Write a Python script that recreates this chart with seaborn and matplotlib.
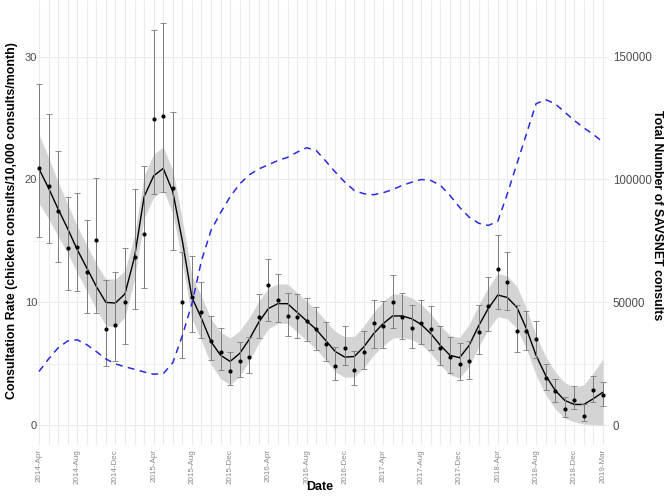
import numpy as np
import pandas as pd
import matplotlib
matplotlib.use("Agg")
import matplotlib.pyplot as plt
import seaborn as sns

# ---------------- data ----------------
months = list(pd.date_range("2014-04-01", periods=60, freq="MS").strftime("%Y-%b"))
tick_labels = ["2014-Apr", "2014-Aug", "2014-Dec", "2015-Apr", "2015-Aug", "2015-Dec",
               "2016-Apr", "2016-Aug", "2016-Dec", "2017-Apr", "2017-Aug", "2017-Dec",
               "2018-Apr", "2018-Aug", "2018-Dec", "2019-Mar"]

rate = [20.9, 19.5, 17.4, 14.4, 14.5, 12.5, 15.1, 7.8, 8.2, 10.0,
        13.7, 15.6, 24.9, 25.2, 19.3, 10.0, 10.4, 9.2, 6.9, 6.0,
        4.4, 5.2, 5.6, 8.8, 11.4, 10.2, 8.9, 8.8, 8.5, 7.8,
        6.6, 4.8, 6.3, 4.5, 6.0, 8.35, 8.1, 10.0, 8.8, 7.9,
        8.3, 7.8, 6.3, 5.6, 5.0, 5.2, 7.6, 9.7, 12.7, 11.65,
        7.67, 7.7, 7.0, 3.85, 2.8, 1.35, 2.1, 0.8, 2.9, 2.5]
rate_lo = [15.3, 14.8, 13.3, 11.0, 10.9, 9.1, 9.1, 4.8, 5.2, 6.6,
           9.5, 11.2, 18.8, 19.0, 14.3, 5.5, 7.6, 7.1, 5.3, 4.5,
           3.25, 3.9, 4.25, 7.1, 8.5, 8.4, 7.3, 7.1, 6.9, 6.15,
           5.2, 3.66, 4.9, 3.3, 4.6, 6.3, 6.3, 7.9, 7.05, 6.3,
           6.6, 6.15, 4.9, 4.25, 3.7, 3.8, 5.8, 7.7, 9.5, 9.4,
           5.96, 6.15, 5.5, 2.85, 1.9, 0.67, 1.3, 0.35, 1.9, 1.6]
rate_hi = [27.8, 25.3, 22.3, 18.6, 18.9, 16.7, 20.1, 11.8, 12.5, 14.4,
           19.2, 21.1, 32.2, 32.7, 25.5, 14.1, 13.8, 11.7, 8.9, 7.9,
           6.0, 6.8, 7.2, 10.65, 13.5, 12.3, 10.8, 10.7, 10.35, 9.6,
           8.4, 6.4, 8.1, 6.04, 7.7, 10.2, 10.1, 12.2, 10.75, 9.76,
           10.2, 9.7, 8.1, 7.2, 6.7, 6.85, 9.76, 12.1, 15.5, 14.1,
           9.76, 9.3, 8.46, 5.0, 3.8, 2.3, 3.2, 1.7, 4.0, 3.5]

smooth = [20.87, 19.3, 17.6, 16.0, 14.3, 12.8, 11.3, 10.0, 9.95, 10.7,
          13.7, 18.6, 20.3, 20.9, 19.0, 15.0, 10.4, 8.7, 6.8, 5.7,
          5.2, 5.85, 7.0, 8.4, 9.5, 9.9, 9.9, 9.2, 8.5, 7.8,
          6.9, 6.0, 5.55, 5.6, 6.4, 7.45, 8.27, 8.9, 8.9, 8.67,
          8.2, 7.45, 6.5, 5.7, 5.5, 6.5, 8.1, 9.5, 10.6, 10.4,
          9.6, 7.85, 5.7, 4.07, 2.85, 2.03, 1.7, 1.7, 2.17, 2.7]
smooth_se = [2.8, 2.5, 2.2, 2.0, 1.9, 1.85, 1.85, 1.9, 1.95, 1.9,
             1.8, 1.75, 1.75, 1.75, 1.75, 1.75, 1.75, 1.8, 1.85, 1.9,
             1.9, 1.85, 1.75, 1.7, 1.65, 1.6, 1.6, 1.6, 1.6, 1.6,
             1.6, 1.65, 1.65, 1.65, 1.7, 1.75, 1.8, 1.8, 1.75, 1.7,
             1.65, 1.6, 1.6, 1.6, 1.65, 1.7, 1.7, 1.7, 1.75, 1.75,
             1.7, 1.65, 1.6, 1.55, 1.5, 1.45, 1.4, 1.6, 2.1, 2.7]

total_consults = [21900, 27000, 31500, 34300, 34800, 32800, 30000, 27000, 25000, 23800,
                  22800, 21700, 20800, 21000, 25500, 36500, 49500, 67000, 79300, 86500,
                  93000, 98200, 101900, 104300, 106000, 107700, 109000, 111100, 112900, 111800,
                  107500, 103000, 98900, 95500, 94200, 93800, 94600, 95900, 97600, 98900,
                  100000, 99600, 97600, 93500, 88700, 84700, 82200, 81300, 83000, 94200,
                  106400, 118600, 130800, 132500, 130800, 127400, 124000, 121000, 118300, 115200]

# ---------------- style ----------------
sns.set_theme(style="white")
plt.rcParams["font.family"] = ["Liberation Sans", "DejaVu Sans"]

df = pd.DataFrame({
    "month": months,
    "pos": np.arange(len(months)),
    "rate": rate, "lo": rate_lo, "hi": rate_hi,
    "smooth": smooth, "se": smooth_se,
    "total": total_consults,
})
df["s_lo"] = df["smooth"] - df["se"]
df["s_hi"] = df["smooth"] + df["se"]

fig = plt.figure(figsize=(6.65, 4.97), dpi=100)
ax = fig.add_axes([0.050, 0.1046, 0.8653, 0.8954])
ax2 = ax.twinx()

scale = 5000.0
ylo, yhi = -1.6, 34.6
ax.set_ylim(ylo, yhi)
ax2.set_ylim(ylo * scale, yhi * scale)
ax.set_xlim(-0.6, len(months) - 0.4)

grid_c = "#ebebeb"
ax.set_xticks(df["pos"])
ax.set_yticks([0, 10, 20, 30])
ax.set_yticks([5, 15, 25], minor=True)
ax.grid(True, which="major", axis="both", color=grid_c, linewidth=0.8, zorder=0)
ax.grid(True, which="minor", axis="y", color=grid_c, linewidth=0.5, zorder=0)

# ribbon + smooth
ax.fill_between(df["pos"], df["s_lo"], df["s_hi"], color="#d4d4d4", linewidth=0, zorder=1)
sns.lineplot(data=df, x="pos", y="smooth", ax=ax, color="black", linewidth=1.0, zorder=3)

# error bars + points
ax.errorbar(df["pos"], df["rate"], yerr=[df["rate"] - df["lo"], df["hi"] - df["rate"]],
            fmt="none", ecolor="#7a7a7a", elinewidth=0.7, capsize=2.0, capthick=0.6, zorder=4)
sns.scatterplot(data=df, x="pos", y="rate", ax=ax, color="black", s=9, linewidth=0, zorder=5)

# total consults (right axis)
sns.lineplot(data=df, x="pos", y="total", ax=ax2, color="#2a2ae0", linewidth=1.1,
             dashes=False, zorder=6)
for l in ax2.get_lines():
    l.set_dashes([4.5, 3.5])

# ticks
lab = [m if (m in tick_labels) else "" for m in months]
ax.set_xticklabels(lab, rotation=90, fontsize=5.8, color="#8a8a8a")
ax.tick_params(axis="x", length=0, pad=3)
ax.tick_params(axis="y", which="both", length=0, pad=-2.7, labelsize=8, labelcolor="#4d4d4d")
ax2.set_yticks([0, 50000, 100000, 150000])
ax2.set_yticklabels(["0", "50000", "100000", "150000"])
ax2.tick_params(axis="y", length=0, pad=3, labelsize=8.3, labelcolor="#4d4d4d")
ax2.grid(False)

for a in (ax, ax2):
    for s in a.spines.values():
        s.set_visible(False)
ax.set_facecolor("white")
ax2.set_zorder(ax.get_zorder() + 1)
ax2.patch.set_visible(False)

ax.set_xlabel("")
ax.set_ylabel("")
ax2.set_ylabel("")
fig.text(320 / 665, 1 - 487 / 497, "Date", fontsize=8.9, fontweight="bold",
         color="black", ha="center", va="center")
fig.text(12 / 665, 1 - 221 / 497, "Consultation Rate (chicken consults/10,000 consults/month)",
         fontsize=8.9, fontweight="bold", color="black", rotation=90, ha="center", va="center")
fig.text(657 / 665, 1 - 215 / 497, "Total Number of SAVSNET consults", fontsize=8.9,
         fontweight="bold", color="black", rotation=-90, ha="center", va="center")

fig.savefig("out.png", dpi=100, facecolor="white")
